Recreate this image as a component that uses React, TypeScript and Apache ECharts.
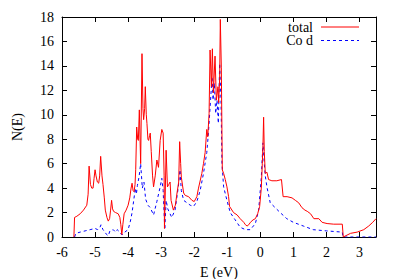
import React, { useEffect, useRef } from "react";
import * as echarts from "echarts";

const totalE = [
  -5.64, -5.62, -5.55, -5.45, -5.35, -5.25, -5.21, -5.18, -5.14, -5.1, -5.06, -5.03, -5.0, -4.97, -4.93, -4.89,
  -4.86, -4.83, -4.79, -4.76, -4.72, -4.69, -4.64, -4.6, -4.56, -4.53, -4.5, -4.47, -4.44, -4.38, -4.3, -4.25,
  -4.22, -4.19, -4.16, -4.12, -4.06, -4.0, -3.95, -3.91, -3.88, -3.85, -3.82, -3.79, -3.77, -3.74, -3.71, -3.69,
  -3.66, -3.62, -3.58, -3.55, -3.53, -3.5, -3.48, -3.45, -3.43, -3.4, -3.38, -3.35, -3.33, -3.3, -3.26, -3.23,
  -3.18, -3.13, -3.08, -3.03, -2.98, -2.94, -2.91, -2.9, -2.88, -2.85, -2.81, -2.77, -2.73, -2.7, -2.63, -2.57,
  -2.52, -2.47, -2.44, -2.41, -2.39, -2.32, -2.27, -2.17, -2.07, -2.0, -1.92, -1.87, -1.77, -1.72, -1.67, -1.62,
  -1.59, -1.55, -1.52, -1.48, -1.45, -1.42, -1.37, -1.33, -1.28, -1.26, -1.23, -1.21, -1.18, -1.15, -1.11, -1.06,
  -1.01, -0.96, -0.93, -0.81, -0.7, -0.61, -0.5, -0.45, -0.4, -0.35, -0.3, -0.22, -0.15, -0.08, -0.02, 0.03,
  0.06, 0.08, 0.1, 0.12, 0.15, 0.2, 0.25, 0.35, 0.5, 0.64, 0.69, 0.81, 0.96, 1.06, 1.16, 1.26,
  1.35, 1.42, 1.52, 1.62, 1.77, 1.87, 2.02, 2.22, 2.48, 2.51, 2.73, 2.93, 3.13, 3.28, 3.4, 3.5,
];
const totalN = [
  0, 1.6, 1.7, 1.9, 2.2, 2.6, 3.5, 5.8, 4.3, 4.0, 4.0, 4.8, 5.5, 5.0, 4.5, 4.4,
  5.0, 6.6, 5.0, 4.3, 3.2, 2.2, 1.6, 1.3, 1.5, 2.2, 3.0, 2.3, 2.1, 2.0, 1.9, 1.6,
  1.0, 0.2, 1.0, 1.9, 2.2, 2.6, 3.2, 4.0, 4.4, 3.8, 3.7, 4.3, 5.5, 9.0, 8.0, 7.9,
  10.4, 6.0, 15.0, 10.5, 9.6, 10.5, 12.3, 10.0, 9.3, 8.0, 7.9, 8.3, 8.5, 7.0, 5.0, 4.1,
  5.0, 6.3, 5.7, 7.9, 8.8, 8.5, 5.0, 0.7, 3.0, 7.1, 4.1, 4.3, 4.5, 3.0, 2.2, 2.6,
  3.6, 4.5, 7.8, 6.0, 4.9, 3.6, 3.4, 3.3, 3.0, 2.9, 3.3, 4.0, 5.2, 6.0, 6.9, 8.8,
  8.2, 10.1, 15.3, 12.3, 15.4, 11.8, 14.8, 11.2, 12.3, 11.0, 13.0, 17.8, 13.9, 5.5, 5.2, 4.7,
  4.1, 3.3, 2.5, 2.0, 1.8, 1.5, 1.2, 1.0, 0.9, 1.0, 1.2, 1.4, 1.5, 1.9, 2.5, 4.0,
  6.0, 7.5, 9.8, 7.0, 5.2, 5.3, 4.7, 4.6, 4.6, 4.7, 3.3, 3.3, 3.2, 3.0, 2.8, 2.4,
  2.2, 2.1, 1.9, 1.5, 1.5, 1.2, 1.1, 1.05, 1.05, 0.0, 0.3, 0.4, 0.6, 0.9, 1.2, 1.5,
];

const codE = [
  -5.62, -5.58, -5.45, -5.3, -5.15, -5.0, -4.92, -4.85, -4.82, -4.76, -4.7, -4.65, -4.6, -4.55, -4.45, -4.38,
  -4.33, -4.25, -4.2, -4.16, -4.1, -4.0, -3.93, -3.88, -3.83, -3.78, -3.75, -3.72, -3.67, -3.62, -3.57, -3.52,
  -3.47, -3.4, -3.33, -3.23, -3.13, -3.03, -2.98, -2.94, -2.89, -2.85, -2.8, -2.68, -2.58, -2.48, -2.43, -2.39,
  -2.32, -2.22, -2.12, -2.02, -1.92, -1.82, -1.72, -1.62, -1.57, -1.52, -1.46, -1.43, -1.39, -1.35, -1.31, -1.27,
  -1.23, -1.19, -1.16, -1.11, -1.01, -0.91, -0.76, -0.61, -0.45, -0.3, -0.15, -0.05, 0.03, 0.08, 0.12, 0.15,
  0.2, 0.3, 0.45, 0.6, 0.8, 1.0, 1.3, 1.6, 2.0, 2.48, 2.5, 3.5,
];
const codN = [
  0, 0.3, 0.4, 0.5, 0.6, 0.7, 0.6, 0.8, 1.0, 0.6, 0.4, 0.2, 0.1, 0.5, 0.6, 0.4,
  0.6, 0.4, 0.2, 0.2, 0.4, 0.6, 1.3, 2.0, 3.0, 4.0, 3.5, 4.2, 4.9, 6.0, 4.0, 4.5,
  3.1, 2.6, 2.4, 1.8, 2.9, 4.1, 4.8, 3.8, 0.6, 3.0, 2.3, 1.6, 2.2, 4.1, 5.5, 3.8,
  3.0, 2.8, 2.6, 2.5, 2.9, 3.8, 5.2, 6.9, 8.5, 10.6, 13.1, 11.2, 12.6, 10.1, 11.2, 9.3,
  14.2, 11.2, 6.0, 4.1, 3.0, 2.0, 1.4, 0.8, 0.6, 0.6, 1.1, 2.2, 4.9, 7.7, 6.0, 5.0,
  4.1, 2.8, 2.4, 2.0, 1.5, 1.2, 0.9, 0.6, 0.5, 0.4, 0.0, 0.0,
];

const xTicks = [-6, -5, -4, -3, -2, -1, 0, 1, 2, 3];
const yTicks = [0, 2, 4, 6, 8, 10, 12, 14, 16, 18];
const seriesNames = ["total", "Co d"];
const seriesColors = ["#ff0000", "#0000ff"];
const xTitle = "E (eV)";
const yTitle = "N(E)";

const FONT = "Liberation Serif";
const FS = 14;

export default function App() {
  const ref = useRef<HTMLDivElement>(null);
  useEffect(() => {
    if (!ref.current) return;
    const chart = echarts.init(ref.current, undefined, { renderer: "svg" });
    const axisLine = { show: true, onZero: false, lineStyle: { color: "#000", width: 1 } };
    const tick = { show: true, inside: true, length: 5, lineStyle: { color: "#000", width: 1 } };
    const xAxisBase = { type: "value", min: -6, max: 3.5, interval: 1, axisLine, axisTick: tick, axisLabel: { show: false }, splitLine: { show: false } };
    const yAxisBase = { type: "value", min: 0, max: 18, interval: 2, axisLine, axisTick: tick, axisLabel: { show: false }, splitLine: { show: false } };
    chart.setOption({
      animation: false,
      backgroundColor: "#fff",
      grid: { left: 62, right: 23, top: 17, bottom: 42, containLabel: false },
      xAxis: [
        { ...xAxisBase, position: "bottom" },
        { ...xAxisBase, position: "top" },
      ],
      yAxis: [
        { ...yAxisBase, position: "left" },
        { ...yAxisBase, position: "right" },
      ],
      series: [
        {
          name: seriesNames[0],
          type: "line",
          xAxisIndex: 0,
          yAxisIndex: 0,
          symbol: "none",
          showSymbol: false,
          lineStyle: { color: seriesColors[0], width: 1 },
          data: totalE.map((e, i) => [e, totalN[i]]),
          z: 3,
        },
        {
          name: seriesNames[1],
          type: "line",
          xAxisIndex: 0,
          yAxisIndex: 0,
          symbol: "none",
          showSymbol: false,
          lineStyle: { color: seriesColors[1], width: 1, type: [3, 3] },
          data: codE.map((e, i) => [e, codN[i]]),
          z: 2,
        },
      ],
    });

    const canvas = document.createElement("canvas");
    const ctx = canvas.getContext("2d") as CanvasRenderingContext2D;
    ctx.font = `${FS}px ${FONT}`;
    const tw = (s: string) => ctx.measureText(s).width;
    const H = FS;

    const px = (v: number) => chart.convertToPixel({ xAxisIndex: 0 }, v) as number;
    const py = (v: number) => chart.convertToPixel({ yAxisIndex: 0 }, v) as number;
    const x0 = px(-6);
    const x1 = px(3.5);
    const yBottom = py(0);
    const yTop = py(18);
    // place a text by its box (left/top), as measured with the same font
    const txt = (text: string, left: number, top: number, extra: any = {}) => ({
      type: "text",
      left: Math.round(left * 10) / 10,
      top: Math.round(top * 10) / 10,
      ...extra,
      style: { text, fontFamily: FONT, fontSize: FS, fill: "#000" },
    });
    const graphics: any[] = [];
    xTicks.forEach((v) => {
      const s = String(v);
      graphics.push(txt(s, px(v) - tw(s) / 2, yBottom + 15.5 - H / 2));
    });
    yTicks.forEach((v) => {
      const s = String(v);
      graphics.push(txt(s, x0 - 8 - tw(s), py(v) - H / 2));
    });
    graphics.push(txt(xTitle, (x0 + x1) / 2 - tw(xTitle) / 2, yBottom + 35.5 - H / 2));
    graphics.push(txt(yTitle, 17.5 - H / 2, (yTop + yBottom) / 2 - tw(yTitle) / 2, { rotation: Math.PI / 2 }));
    // key
    const keyTextX = x1 - 63;
    const keyLineX0 = x1 - 55;
    const keyLineX1 = x1 - 17;
    seriesNames.forEach((name, i) => {
      const ky = yTop + 10 + i * 13.5;
      graphics.push(txt(name, keyTextX - tw(name), ky - H / 2));
      graphics.push({
        type: "line",
        silent: true,
        shape: { x1: keyLineX0, y1: ky, x2: keyLineX1, y2: ky },
        style: { stroke: seriesColors[i], lineWidth: 1, lineDash: i === 1 ? [3, 3] : null },
      });
    });
    chart.setOption({ graphic: graphics });
    return () => chart.dispose();
  }, []);
  return (
    <div
      ref={ref}
      style={{ position: "fixed", left: 0, top: 0, width: 399, height: 279, background: "#fff" }}
    />
  );
}
